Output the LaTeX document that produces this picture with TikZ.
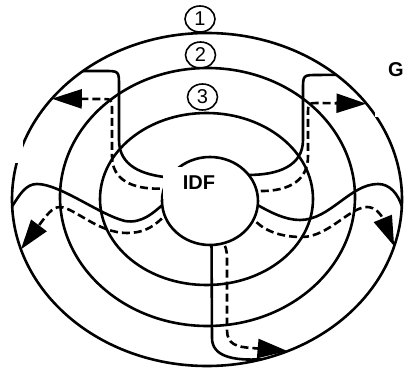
\documentclass[tikz,border=0pt]{standalone}
\usepackage{fontspec}
\setmainfont{Liberation Sans}
\usetikzlibrary{arrows.meta,shapes.geometric}

\begin{document}
\begin{tikzpicture}[
  x=1pt,y=-1pt,
  every node/.style={font=\fontsize{20}{20}\selectfont},
  ring/.style={draw,ellipse,line width=2.6pt,inner sep=0pt,outer sep=0pt},
  tag/.style={draw,ellipse,line width=1.6pt,inner sep=0pt,minimum width=30pt,minimum height=26pt},
  cable/.style={draw,line width=2.6pt},
  route/.style={draw,line width=2.6pt,dash pattern=on 8pt off 4pt,shorten <=4pt,-{Triangle[length=30pt,width=19pt]}},
  idfbox/.style={fill=white,font=\fontsize{20}{20}\selectfont\bfseries,minimum width=72pt,minimum height=32pt}
]
\useasboundingbox (0,0) rectangle (405,369);
\node[ring,minimum width=390pt,minimum height=333pt] (ring1) at (207,199.5) {};
\node[ring,minimum width=295pt,minimum height=258pt] (ring2) at (207.5,197) {};
\node[ring,minimum width=213pt,minimum height=172pt] (ring3) at (206.5,199) {};
\node[ring,minimum width=96pt,minimum height=88pt] (hub) at (210,201) {};

\draw[cable] (ring1.134) -- (104,71) .. controls (119,71) .. (119,86) -- (119,140) .. controls (119,166) and (142,175) .. (hub.150);
\draw[route] (hub.165) .. controls (132,189) and (112,180) .. (112,156) -- (112,111) .. controls (112,99) .. (100,99) -- (ring1.147);
\draw[cable] (ring1.44) -- (318,75) .. controls (303,75) .. (303,90) -- (303,140) .. controls (303,166) and (278,175) .. (hub.34);
\draw[route] (hub.12) .. controls (290,191) and (308,180) .. (308,156) -- (308,115) .. controls (308,103) .. (320,103) -- (ring1.31);
\draw[cable] (ring1.182) .. controls (20,194) and (26,184) .. (37,184) .. controls (60,184) and (100,215) .. (125,221) .. controls (142,224) and (154,212) .. (hub.185);
\draw[route] (hub.198) .. controls (152,228) and (142,233) .. (127,233) .. controls (98,233) and (75,208) .. (60,207) .. controls (52,207) and (46,216) .. (ring1.195);
\draw[cable] (hub.-5) .. controls (270,212) and (285,220) .. (300,220) .. controls (330,220) and (350,184) .. (378,184) .. controls (390,184) and (398,194) .. (ring1.-2);
\draw[route] (hub.-23) .. controls (268,233) and (285,237) .. (302,237) .. controls (328,237) and (350,207) .. (367,207) .. controls (375,207) and (381,214) .. (ring1.-14);
\draw[cable] (hub.-88) -- (212,338) .. controls (212,356) and (232,361) .. (ring1.-71);
\draw[route] (hub.-75) .. controls (225,246) and (227,250) .. (227,258) -- (227,330) .. controls (227,344) and (236,347) .. (252,348) -- (ring1.-62);

\node[idfbox] (idf) at (199,183) {IDF};

\fill[white] (0,140) rectangle (23,163);
\fill[white] (375,40) rectangle (405,117);
\node[font=\fontsize{20}{20}\selectfont\bfseries,anchor=west,inner sep=0pt] (cut) at (388,70) {G};

\node[tag] (n1) at (200,19) {1};
\node[tag] (n2) at (200.5,55) {2};
\node[tag] (n3) at (202.5,97) {3};
\end{tikzpicture}
\end{document}
